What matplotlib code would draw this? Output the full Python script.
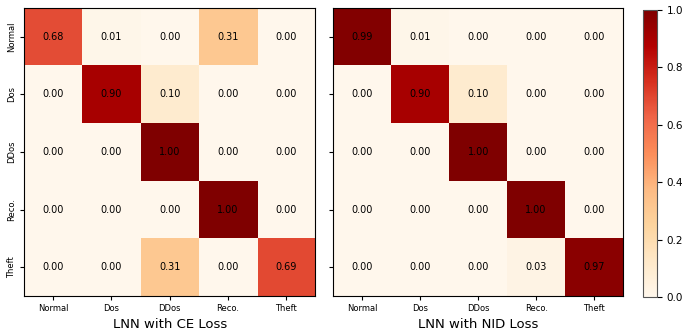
import numpy as np
import matplotlib
matplotlib.use("Agg")
import matplotlib.pyplot as plt

classes = ["Normal", "Dos", "DDos", "Reco.", "Theft"]

ce_loss = [
    [0.68, 0.01, 0.00, 0.31, 0.00],
    [0.00, 0.90, 0.10, 0.00, 0.00],
    [0.00, 0.00, 1.00, 0.00, 0.00],
    [0.00, 0.00, 0.00, 1.00, 0.00],
    [0.00, 0.00, 0.31, 0.00, 0.69],
]

nid_loss = [
    [0.99, 0.01, 0.00, 0.00, 0.00],
    [0.00, 0.90, 0.10, 0.00, 0.00],
    [0.00, 0.00, 1.00, 0.00, 0.00],
    [0.00, 0.00, 0.00, 1.00, 0.00],
    [0.00, 0.00, 0.00, 0.03, 0.97],
]

titles = ["LNN with CE Loss", "LNN with NID Loss"]

fig = plt.figure(figsize=(6.97, 3.35), dpi=100)
ax1 = fig.add_axes([0.0344, 0.1164, 0.418, 0.8596])
ax2 = fig.add_axes([0.478, 0.1164, 0.416, 0.8596])
cax = fig.add_axes([0.9225, 0.113, 0.020, 0.858])

im = None
for ax, data, title, show_y in [(ax1, ce_loss, titles[0], True),
                                (ax2, nid_loss, titles[1], False)]:
    arr = np.array(data)
    im = ax.imshow(arr, cmap="OrRd", vmin=0, vmax=1, aspect="auto",
                   interpolation="nearest")
    for i in range(arr.shape[0]):
        for j in range(arr.shape[1]):
            ax.text(j, i, f"{arr[i, j]:.2f}", ha="center", va="center",
                    fontsize=7, color="black")
    ax.set_xticks(range(len(classes)))
    ax.set_xticklabels(classes, fontsize=6)
    ax.set_yticks(range(len(classes)))
    if show_y:
        ax.set_yticklabels(classes, fontsize=6, rotation=90, va="center")
    else:
        ax.set_yticklabels([])
    ax.tick_params(length=3, pad=3)
    ax.set_xlabel(title, fontsize=9.5, labelpad=3)

cb = fig.colorbar(im, cax=cax)
cb.ax.tick_params(labelsize=7.5, length=3.5)
cb.set_ticks([0.0, 0.2, 0.4, 0.6, 0.8, 1.0])
cb.outline.set_edgecolor("#555555")

fig.savefig("out.png", dpi=100)
